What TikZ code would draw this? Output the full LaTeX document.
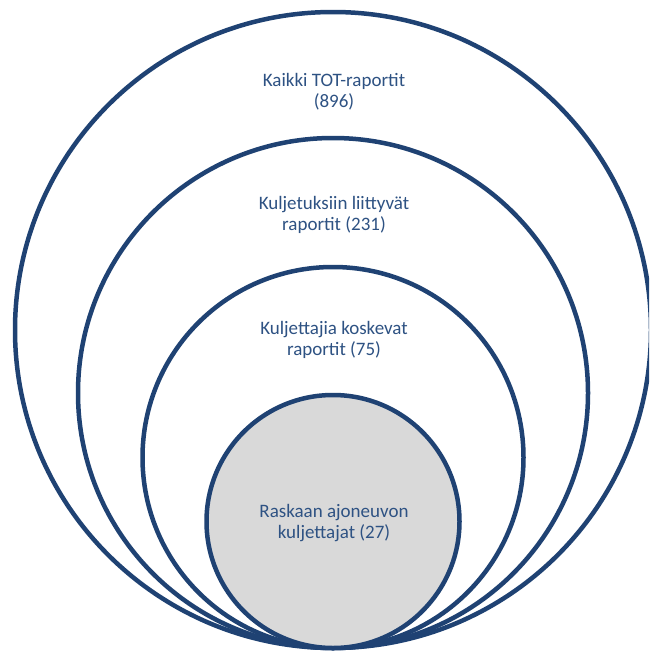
\documentclass[tikz,border=0pt]{standalone}
\usepackage{fontspec}
\setmainfont{Carlito}
\definecolor{ring}{HTML}{1F4273}
\definecolor{txt}{HTML}{2E5283}
\definecolor{core}{HTML}{D9D9D9}
\begin{document}
\begin{tikzpicture}[x=1pt,y=1pt,
  ringc/.style={circle,draw=ring,line width=4.5pt,fill=white,inner sep=0pt},
  lbl/.style={text=txt,font=\fontsize{19}{21}\selectfont,align=center,inner sep=0pt}]
\useasboundingbox (0,0) rectangle (649,-653);
\clip (0,0) rectangle (649,-653);
\node[ringc,minimum size=636pt] (c1) at (333,-330) {};
\node[ringc,minimum size=510pt] (c2) at (333,-393) {};
\node[ringc,minimum size=381pt] (c3) at (333,-457.5) {};
\node[ringc,fill=core,minimum size=253pt] (c4) at (333,-521.5) {};
\node[lbl] (t1) at (334,-91.5) {Kaikki TOT-raportit\\(896)};
\node[lbl] (t2) at (334,-215) {Kuljetuksiin liittyvät\\raportit (231)};
\node[lbl] (t3) at (334,-340) {Kuljettajia koskevat\\raportit (75)};
\node[lbl] (t4) at (334,-523) {Raskaan ajoneuvon\\kuljettajat (27)};
\end{tikzpicture}
\end{document}
